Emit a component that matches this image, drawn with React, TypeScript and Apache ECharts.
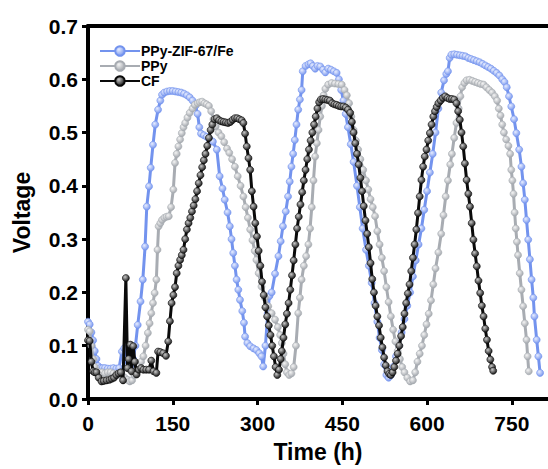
import React, { useEffect, useRef } from "react";
import * as echarts from "echarts";

const xTicks = [0, 150, 300, 450, 600, 750];
const yTicks = [0, 0.1, 0.2, 0.3, 0.4, 0.5, 0.6, 0.7];
const seriesNames = ["PPy-ZIF-67/Fe", "PPy", "CF"];

const ppyZif: [number, number][] = [
  [0,0.145],[3,0.14],[6,0.125],[9,0.11],[12,0.09],[15,0.075],[18,0.062],[22,0.058],[26,0.058],[30,0.058],[35,0.057],[40,0.057],[45,0.058],[50,0.057],[55,0.058],[60,0.089],[64,0.095],[68,0.06],[72,0.075],[76,0.06],[80,0.075],[84,0.1],[88,0.139],[93,0.183],[97,0.224],[101,0.286],[104,0.361],[108,0.399],[111,0.434],[115,0.477],[119,0.515],[124,0.543],[128,0.56],[131,0.571],[135,0.575],[140,0.577],[145,0.578],[150,0.578],[155,0.577],[160,0.576],[165,0.575],[170,0.573],[175,0.57],[180,0.566],[185,0.56],[190,0.55],[194,0.535],[197,0.51],[200,0.498],[205,0.495],[210,0.492],[215,0.488],[221,0.483],[228,0.468],[233,0.418],[238,0.395],[242,0.374],[247,0.35],[251,0.324],[254,0.3],[257,0.274],[260,0.25],[263,0.224],[266,0.205],[269,0.186],[273,0.165],[276,0.143],[278,0.117],[282,0.105],[287,0.099],[293,0.095],[298,0.092],[303,0.086],[307,0.08],[310,0.061],[314,0.1],[318,0.16],[321,0.193],[325,0.2],[331,0.235],[337,0.268],[341,0.296],[345,0.324],[350,0.352],[354,0.38],[357,0.408],[360,0.436],[363,0.46],[366,0.486],[369,0.515],[372,0.543],[375,0.562],[378,0.58],[380,0.615],[385,0.625],[390,0.628],[394,0.63],[398,0.625],[402,0.62],[406,0.625],[411,0.624],[416,0.618],[420,0.613],[425,0.62],[430,0.618],[435,0.615],[440,0.612],[444,0.6],[448,0.58],[452,0.56],[456,0.535],[460,0.51],[465,0.478],[470,0.445],[476,0.4],[481,0.36],[486,0.32],[492,0.28],[497,0.25],[502,0.218],[507,0.18],[512,0.145],[516,0.115],[520,0.092],[524,0.065],[528,0.045],[532,0.04],[536,0.045],[540,0.06],[545,0.08],[550,0.1],[555,0.125],[560,0.15],[565,0.175],[570,0.2],[575,0.23],[580,0.26],[585,0.29],[590,0.32],[595,0.355],[600,0.39],[605,0.425],[610,0.46],[615,0.5],[620,0.545],[625,0.575],[630,0.598],[634,0.61],[637,0.615],[640,0.64],[643,0.646],[648,0.647],[653,0.646],[658,0.645],[663,0.644],[668,0.643],[673,0.64],[678,0.638],[683,0.636],[688,0.634],[693,0.632],[698,0.629],[703,0.626],[708,0.623],[713,0.62],[718,0.616],[723,0.612],[728,0.607],[733,0.6],[737,0.595],[741,0.585],[745,0.568],[749,0.549],[754,0.525],[758,0.499],[763,0.468],[767,0.436],[770,0.405],[773,0.374],[776,0.336],[779,0.299],[782,0.262],[785,0.224],[788,0.19],[790,0.155],[794,0.111],[797,0.08],[800,0.049]
];

const ppy: [number, number][] = [
  [0,0.13],[3,0.127],[6,0.1],[9,0.075],[12,0.06],[16,0.052],[20,0.05],[25,0.05],[30,0.048],[35,0.05],[40,0.05],[45,0.048],[50,0.047],[55,0.045],[60,0.045],[65,0.04],[70,0.036],[74,0.033],[78,0.035],[82,0.045],[86,0.055],[90,0.062],[94,0.07],[98,0.08],[102,0.1],[106,0.124],[109,0.142],[112,0.161],[115,0.18],[118,0.199],[121,0.224],[123,0.28],[125,0.324],[128,0.33],[131,0.336],[135,0.34],[139,0.342],[143,0.343],[147,0.36],[151,0.393],[154,0.443],[157,0.46],[160,0.474],[163,0.487],[166,0.499],[169,0.51],[172,0.518],[176,0.528],[180,0.537],[185,0.545],[189,0.552],[194,0.555],[198,0.557],[202,0.558],[206,0.555],[210,0.553],[214,0.55],[218,0.54],[222,0.525],[226,0.512],[231,0.5],[236,0.493],[241,0.482],[246,0.47],[250,0.462],[255,0.45],[260,0.436],[265,0.418],[270,0.4],[275,0.38],[279,0.36],[283,0.34],[287,0.318],[291,0.298],[295,0.278],[298,0.261],[302,0.236],[307,0.211],[313,0.19],[319,0.174],[325,0.161],[331,0.149],[336,0.135],[340,0.12],[343,0.105],[346,0.085],[349,0.065],[352,0.05],[356,0.045],[360,0.048],[364,0.06],[368,0.1],[372,0.161],[375,0.19],[378,0.224],[382,0.25],[386,0.268],[390,0.29],[393,0.32],[396,0.36],[399,0.41],[402,0.455],[405,0.48],[408,0.505],[411,0.53],[414,0.55],[417,0.57],[420,0.582],[425,0.59],[431,0.593],[437,0.592],[443,0.591],[449,0.59],[454,0.58],[458,0.57],[462,0.555],[466,0.53],[470,0.505],[474,0.485],[478,0.468],[482,0.45],[487,0.43],[492,0.41],[496,0.393],[500,0.375],[504,0.36],[508,0.343],[512,0.315],[516,0.29],[520,0.265],[524,0.24],[528,0.21],[532,0.182],[536,0.155],[540,0.13],[544,0.108],[548,0.09],[552,0.075],[556,0.06],[560,0.05],[565,0.04],[570,0.033],[575,0.035],[579,0.05],[583,0.07],[587,0.085],[591,0.1],[595,0.12],[599,0.14],[603,0.16],[607,0.185],[611,0.215],[615,0.245],[620,0.275],[625,0.31],[629,0.345],[633,0.38],[637,0.41],[641,0.44],[644,0.46],[648,0.49],[652,0.518],[656,0.545],[659,0.568],[662,0.585],[666,0.593],[670,0.598],[675,0.599],[680,0.597],[685,0.595],[690,0.593],[695,0.591],[700,0.59],[705,0.585],[710,0.58],[715,0.575],[720,0.568],[724,0.56],[727,0.545],[730,0.532],[733,0.515],[736,0.5],[740,0.487],[744,0.475],[747,0.46],[749,0.43],[751,0.41],[753,0.385],[755,0.35],[757,0.32],[759,0.295],[761,0.27],[764,0.236],[767,0.205],[770,0.174],[773,0.142],[776,0.111],[778,0.08],[780,0.052]
];

const cf: [number, number][] = [
  [0,0.11],[3,0.109],[6,0.07],[9,0.052],[12,0.05],[15,0.05],[19,0.04],[24,0.033],[28,0.034],[33,0.035],[38,0.036],[42,0.038],[46,0.04],[50,0.045],[54,0.048],[58,0.05],[62,0.035],[67,0.227],[70,0.058],[72,0.075],[75,0.102],[77,0.052],[80,0.099],[83,0.07],[86,0.046],[90,0.055],[94,0.058],[98,0.055],[103,0.055],[108,0.055],[112,0.072],[116,0.052],[121,0.049],[124,0.089],[128,0.088],[133,0.086],[138,0.081],[142,0.108],[145,0.146],[148,0.18],[151,0.195],[154,0.21],[157,0.236],[160,0.25],[163,0.261],[166,0.27],[169,0.28],[172,0.3],[175,0.318],[178,0.33],[181,0.34],[184,0.352],[187,0.363],[190,0.375],[193,0.39],[196,0.405],[199,0.42],[202,0.435],[205,0.448],[208,0.46],[211,0.475],[214,0.49],[217,0.505],[220,0.515],[224,0.525],[228,0.527],[232,0.523],[236,0.521],[240,0.52],[244,0.519],[248,0.518],[252,0.52],[256,0.524],[260,0.527],[264,0.527],[268,0.525],[272,0.523],[275,0.518],[278,0.498],[281,0.474],[284,0.452],[287,0.43],[290,0.39],[293,0.361],[296,0.33],[299,0.305],[302,0.278],[305,0.25],[308,0.22],[311,0.195],[314,0.172],[317,0.155],[320,0.138],[323,0.12],[326,0.1],[329,0.08],[332,0.06],[335,0.045],[338,0.055],[341,0.075],[343,0.09],[346,0.115],[349,0.14],[352,0.16],[355,0.18],[358,0.205],[361,0.232],[364,0.26],[367,0.29],[370,0.32],[373,0.342],[376,0.365],[379,0.388],[382,0.41],[385,0.43],[388,0.45],[391,0.468],[394,0.485],[397,0.5],[400,0.515],[403,0.53],[406,0.545],[409,0.557],[412,0.562],[416,0.563],[420,0.562],[424,0.561],[428,0.56],[432,0.555],[436,0.553],[440,0.552],[444,0.55],[448,0.549],[452,0.549],[456,0.547],[460,0.543],[464,0.537],[467,0.52],[470,0.5],[473,0.48],[476,0.46],[479,0.44],[482,0.415],[485,0.39],[488,0.362],[491,0.335],[494,0.31],[497,0.285],[500,0.255],[503,0.225],[506,0.2],[509,0.175],[512,0.155],[515,0.138],[518,0.115],[521,0.097],[524,0.078],[527,0.063],[530,0.052],[533,0.047],[536,0.045],[539,0.05],[542,0.06],[545,0.072],[548,0.085],[551,0.1],[554,0.118],[557,0.135],[560,0.16],[563,0.18],[566,0.198],[569,0.215],[572,0.24],[575,0.265],[578,0.29],[581,0.318],[584,0.349],[587,0.38],[590,0.411],[593,0.436],[596,0.455],[599,0.468],[602,0.485],[605,0.499],[608,0.515],[611,0.53],[614,0.54],[617,0.548],[620,0.555],[624,0.56],[628,0.565],[632,0.568],[636,0.565],[640,0.563],[644,0.563],[648,0.562],[652,0.555],[655,0.54],[658,0.524],[661,0.5],[664,0.474],[667,0.442],[670,0.411],[673,0.385],[676,0.361],[679,0.33],[682,0.299],[685,0.273],[688,0.249],[691,0.222],[694,0.199],[697,0.175],[700,0.155],[703,0.132],[706,0.111],[709,0.09],[712,0.074],[715,0.06],[717,0.053]
];

const FONT = "'Liberation Sans', Arial, sans-serif";

function sphere(light: string, dark: string) {
  return new echarts.graphic.RadialGradient(0.38, 0.35, 0.65, [
    { offset: 0, color: light },
    { offset: 1, color: dark },
  ]);
}

function makeSeries(name: string, data: [number, number][], line: string, light: string, dark: string, z: number) {
  return {
    name,
    type: "line",
    data,
    z,
    symbol: "circle",
    symbolSize: 7,
    showSymbol: true,
    lineStyle: { color: line, width: 3 },
    itemStyle: { color: sphere(light, dark), borderColor: line, borderWidth: 0.6 },
  };
}

export default function App() {
  const ref = useRef<HTMLDivElement>(null);
  useEffect(() => {
    if (!ref.current) return;
    const chart = echarts.init(ref.current, undefined, { renderer: "svg" });
    const axisLine = { show: true, lineStyle: { color: "#000", width: 4 } };
    chart.setOption({
      animation: false,
      backgroundColor: "#fff",
      grid: { left: 88, right: 0, top: 26, bottom: 70, containLabel: false },
      legend: {
        orient: "vertical",
        left: 94,
        top: 39,
        itemWidth: 40,
        itemHeight: 12,
        itemGap: 1,
        data: seriesNames,
        textStyle: { fontFamily: FONT, fontWeight: "bold", fontSize: 14, color: "#000", padding: [0, 0, 0, -4] },
      },
      xAxis: [
        {
          type: "value",
          min: 0,
          max: 814,
          interval: 150,
          name: "Time (h)",
          nameLocation: "middle",
          nameGap: 41,
          nameTextStyle: { fontFamily: FONT, fontWeight: "bold", fontSize: 23, color: "#000" },
          axisLine,
          axisTick: { show: true, length: 6, lineStyle: { color: "#000", width: 3 } },
          axisLabel: {
            fontFamily: FONT,
            fontWeight: "bold",
            fontSize: 21,
            color: "#000",
            margin: 14,
            showMaxLabel: false,
            formatter: (v: number) => (xTicks.includes(v) ? String(v) : ""),
          },
          splitLine: { show: false },
        },
        {
          type: "value",
          position: "top",
          min: 0,
          max: 814,
          axisLine,
          axisTick: { show: false },
          axisLabel: { show: false },
          splitLine: { show: false },
        },
      ],
      yAxis: {
        type: "value",
        min: 0,
        max: 0.7,
        interval: 0.1,
        name: "Voltage",
        nameLocation: "middle",
        nameGap: 55,
        nameTextStyle: { fontFamily: FONT, fontWeight: "bold", fontSize: 23, color: "#000" },
        axisLine,
        axisTick: { show: true, length: 6, lineStyle: { color: "#000", width: 3 } },
        axisLabel: {
          fontFamily: FONT,
          fontWeight: "bold",
          fontSize: 21,
          color: "#000",
          margin: 10,
          formatter: (v: number) => {
            const hit = yTicks.find((t) => Math.abs(t - v) < 1e-6);
            return hit === undefined ? "" : hit.toFixed(1);
          },
        },
        splitLine: { show: false },
      },
      series: [
        makeSeries(seriesNames[0], ppyZif, "#7393ee", "#e6ecff", "#7a98ee", 2),
        makeSeries(seriesNames[1], ppy, "#a8acb2", "#f4f4f4", "#a4a8ae", 3),
        makeSeries(seriesNames[2], cf, "#0a0a0a", "#c8c8c8", "#1a1a1a", 4),
      ],
    });
    return () => chart.dispose();
  }, []);
  return (
    <div
      ref={ref}
      style={{ position: "absolute", left: 0, top: 0, width: 548, height: 469 }}
    />
  );
}
